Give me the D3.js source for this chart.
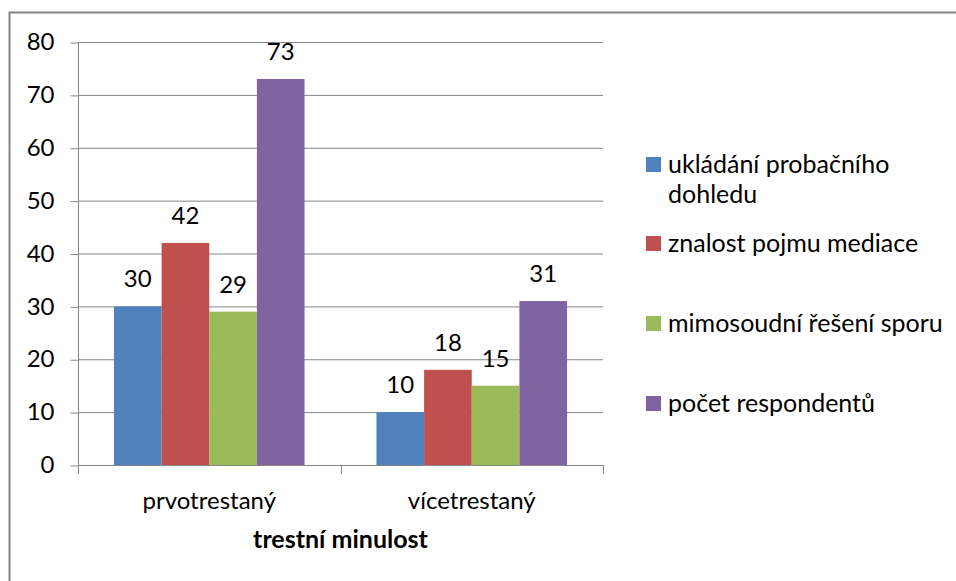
<!DOCTYPE html>
<html><head><meta charset="utf-8">
<script src="https://cdn.jsdelivr.net/npm/d3@7"></script>
<style>body{margin:0;background:#fff}svg{display:block}text{font-family:Lato,sans-serif;fill:#000}</style>
</head><body><svg id="c" width="956" height="581"></svg>
<script>
const categories = ["prvotrestaný", "vícetrestaný"];
const seriesNames = ["ukládání probačního dohledu", "znalost pojmu mediace", "mimosoudní řešení sporu", "počet respondentů"];
const seriesColors = ["#4F81BD", "#C0504D", "#9BBB59", "#8064A2"];
const values = [
  [30, 10],
  [42, 18],
  [29, 15],
  [73, 31]
];
const yTicks = [0, 10, 20, 30, 40, 50, 60, 70, 80];
const axisTitle = "trestní minulost";

const FS = 24, LFS = 25, TFS = 25;
const svg = d3.select("#c");
svg.append("rect").attr("x", 9.5).attr("y", 12.5).attr("width", 960).attr("height", 600)
  .attr("fill", "#fff").attr("stroke", "#868686").attr("stroke-width", 2);

const L = 78, R = 603, T = 42, B = 465;
const x0 = d3.scaleBand().domain(categories).range([L, R]).paddingInner(0).paddingOuter(0);
const y = d3.scaleLinear().domain([0, 80]).range([B, T]);
const innerPad = 0.137;
const x1 = d3.scaleBand().domain(d3.range(seriesNames.length))
  .range([x0.bandwidth() * innerPad, x0.bandwidth() * (1 - innerPad)]).padding(0);

// gridlines
svg.append("g").selectAll("line").data(yTicks.filter(d => d > 0)).join("line")
  .attr("x1", L).attr("x2", R).attr("y1", d => y(d) + 0.5).attr("y2", d => y(d) + 0.5)
  .attr("stroke", "#868686").attr("stroke-width", 1);

// y axis
const yAxis = d3.axisLeft(y).tickValues(yTicks).tickSize(8).tickPadding(16);
const gy = svg.append("g").attr("transform", `translate(${L + 0.5},0.5)`).call(yAxis);
gy.select(".domain").attr("stroke", "#868686").attr("d", `M0,${T}V${B}`);
gy.selectAll(".tick line").attr("stroke", "#868686");
gy.selectAll(".tick text").style("font-size", FS + "px").attr("fill", "#000").attr("dy", "0.3em");

// bars
const groups = svg.append("g").selectAll("g").data(seriesNames.map((n, i) => i)).join("g");
groups.selectAll("rect").data(i => categories.map((c, j) => ({ i, c, v: values[i][j] }))).join("rect")
  .attr("x", d => x0(d.c) + x1(d.i)).attr("width", x1.bandwidth())
  .attr("y", d => y(d.v)).attr("height", d => B - y(d.v))
  .attr("fill", d => seriesColors[d.i]);
groups.selectAll("text").data(i => categories.map((c, j) => ({ i, c, v: values[i][j] }))).join("text")
  .attr("x", d => x0(d.c) + x1(d.i) + x1.bandwidth() / 2).attr("y", d => y(d.v) - 19)
  .attr("text-anchor", "middle").style("font-size", FS + "px").text(d => d.v);

// x axis
const xAxis = d3.axisBottom(x0).tickSize(0).tickPadding(26);
const gx = svg.append("g").attr("transform", `translate(0,${B + 0.5})`).call(xAxis);
gx.select(".domain").attr("stroke", "#868686").attr("d", `M${L},0H${R}`);
gx.selectAll(".tick text").style("font-size", FS + "px");
svg.append("g").selectAll("line").data([L, x0(categories[1]), R]).join("line")
  .attr("x1", d => Math.round(d) + 0.5).attr("x2", d => Math.round(d) + 0.5)
  .attr("y1", B).attr("y2", B + 9).attr("stroke", "#868686");

svg.append("text").attr("x", x0(categories[1])).attr("y", 548).attr("text-anchor", "middle")
  .style("font-size", TFS + "px").style("font-weight", "bold").text(axisTitle);

// legend
const legendLines = [["ukládání probačního", "dohledu"], ["znalost pojmu mediace"], ["mimosoudní řešení sporu"], ["počet respondentů"]];
const legendBase = [173, 252, 332, 412];
const lg = svg.append("g").selectAll("g").data(legendLines).join("g")
  .attr("transform", (d, i) => `translate(646,${legendBase[i]})`);
lg.append("rect").attr("x", 0).attr("y", -16).attr("width", 15).attr("height", 15)
  .attr("fill", (d, i) => seriesColors[i]);
lg.append("text").style("font-size", LFS + "px")
  .selectAll("tspan").data(d => d).join("tspan").attr("x", 22).attr("y", (d, k) => k * 30)
  .text(d => d);
</script></body></html>
